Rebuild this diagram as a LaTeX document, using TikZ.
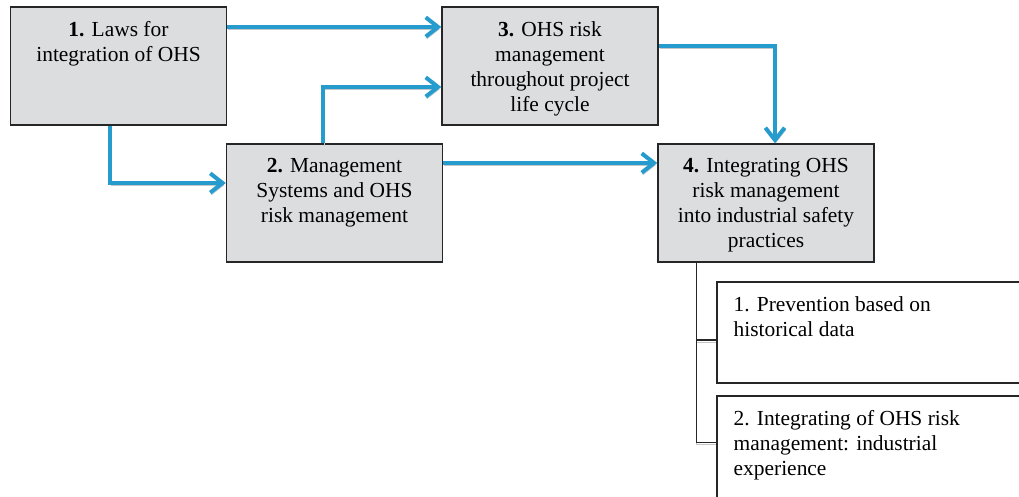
\documentclass[tikz,border=0pt]{standalone}
\usepackage{fontspec}
\setmainfont{Liberation Serif}
\usetikzlibrary{arrows.meta}
\definecolor{boxgray}{RGB}{220,221,223}
\definecolor{flowblue}{RGB}{38,155,206}
\definecolor{shadowgray}{RGB}{196,198,200}
\tikzset{
	stagebox/.style={draw=black!85, line width=0.8pt, fill=boxgray, rectangle, minimum width=4.32cm, minimum height=2.36cm},
	subbox/.style={draw=black!85, line width=0.8pt, fill=white, rectangle, minimum width=7cm},
	boxtext/.style={anchor=north, align=center, inner sep=0pt, font=\fontsize{12.2}{14.2}\selectfont},
	subtext/.style={anchor=north west, align=left, inner sep=0pt, font=\fontsize{12.2}{14.2}\selectfont},
	flow/.style={draw=flowblue, line width=2.3pt, -{Straight Barb[length=7pt, width=11pt]},
		preaction={draw=shadowgray, transform canvas={shift={(0.6pt,-1.3pt)}}}},
	tree/.style={draw=black!85, line width=0.8pt,
		preaction={draw=shadowgray, transform canvas={shift={(0pt,-1.2pt)}}}}
}
\begin{document}
\begin{tikzpicture}
	\useasboundingbox (0,0) rectangle (20.38,-9.92);
	\clip (0,0) rectangle (20.38,-9.92);

	% Laws
	\draw (2.37,-1.32) node[stagebox] (laws) {} ;
	% Management systems
	\draw (6.69,-4.06) node[stagebox] (mgmt) {} ;
	% Project life cycle
	\draw (11.0,-1.32) node[stagebox] (cycle) {} ;
	% Industrial safety practices
	\draw (15.32,-4.06) node[stagebox] (practice) {} ;
	% Prevention and experience
	\draw (17.84,-6.65) node[subbox, minimum height=2.02cm] (prevent) {} ;
	\draw (17.84,-9.22) node[subbox, minimum height=2.6cm] (experience) {} ;

	\draw ([yshift=-0.3cm]laws.north) node[boxtext] {\textbf{1.} Laws for\\integration of OHS};
	\draw ([yshift=-0.3cm]mgmt.north) node[boxtext] {\textbf{2.} Management\\Systems and OHS\\risk management};
	\draw ([yshift=-0.3cm]cycle.north) node[boxtext] {\textbf{3.} OHS risk\\management\\throughout project\\life cycle};
	\draw ([yshift=-0.3cm]practice.north) node[boxtext] {\textbf{4.} Integrating OHS\\risk management\\into industrial safety\\practices};
	\draw ([xshift=0.34cm, yshift=-0.3cm]prevent.north west) node[subtext] {1. Prevention based on\\historical data};
	\draw ([xshift=0.34cm, yshift=-0.3cm]experience.north west) node[subtext] {2. Integrating of OHS risk\\management: industrial\\experience};

	\draw[flow] ([yshift=0.78cm]laws.east) -- ([yshift=0.78cm]laws.east -| cycle.west);
	\draw[flow] ([xshift=-0.17cm]laws.south) |- ([yshift=0.4cm]mgmt.west);
	\draw[flow] ([xshift=-0.23cm]mgmt.north) |- ([yshift=-0.42cm]cycle.west);
	\draw[flow] ([yshift=0.8cm]mgmt.east) -- ([yshift=0.8cm]mgmt.east -| practice.west);
	\draw[flow] ([yshift=0.4cm]cycle.east) -| ([xshift=0.18cm]practice.north);

	\coordinate (branch) at ([xshift=-0.4cm]practice.south -| prevent.west);
	\draw[tree] (branch) |- ([yshift=-0.15cm]prevent.west);
	\draw[tree] (branch) |- ([yshift=-0.94cm]experience.north west);

\end{tikzpicture}
\end{document}
